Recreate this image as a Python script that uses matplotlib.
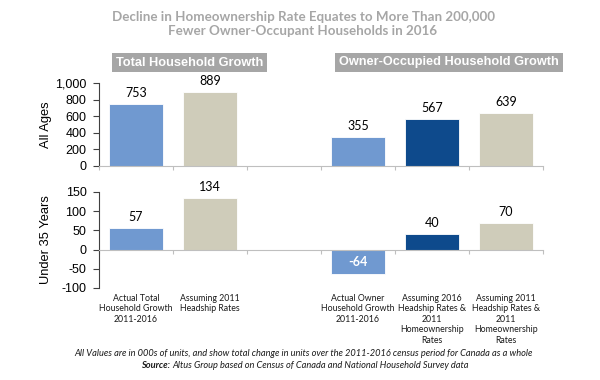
import numpy as np
import matplotlib.pyplot as plt
import matplotlib.transforms as mtransforms
from matplotlib.patches import Rectangle

# Chart data
categories = ["Actual Total\nHousehold Growth\n2011-2016", "Assuming 2011\nHeadship Rates", "",
              "Actual Owner\nHousehold Growth\n2011-2016",
              "Assuming 2016\nHeadship Rates &\n2011\nHomeownership\nRates",
              "Assuming 2011\nHeadship Rates &\n2011\nHomeownership\nRates"]
all_ages = [753, 889, None, 355, 567, 639]
under_35 = [57, 134, None, -64, 40, 70]
bar_colors = ["#7099d0", "#cfccba", "white", "#7099d0", "#0e4a8c", "#cfccba"]
headers = ["Total Household Growth", "Owner-Occupied Household Growth"]

W, H = 600, 380
fig = plt.figure(figsize=(6, 3.8), dpi=100)
ax1 = fig.add_axes([99 / W, 1 - 166 / H, 444 / W, 83 / H])
ax2 = fig.add_axes([99 / W, 1 - 288 / H, 444 / W, 96 / H])

x = np.arange(len(categories)) + 0.5
axis_col = "#bfbfbf"
tick_font = "Liberation Sans"
lab_font = "Lato"

for ax, vals in [(ax1, all_ages), (ax2, under_35)]:
    for xi, v, c in zip(x, vals, bar_colors):
        if v is None:
            continue
        ax.bar(xi, v, width=0.73, color=c, edgecolor="white", linewidth=0.6)
    ax.set_xlim(0, 6)
    ax.set_xticks(np.arange(0, 7))
    ax.set_xticklabels([])
    for s in ["top", "right"]:
        ax.spines[s].set_visible(False)
    ax.spines["left"].set_color("#404040")
    ax.spines["bottom"].set_color(axis_col)
    ax.tick_params(axis="x", length=3, color=axis_col, direction="out")
    ax.tick_params(axis="y", length=4, labelsize=9, color="#404040", pad=5)
    ax.yaxis.set_label_coords(-0.105, 0.5)

# top panel
ax1.set_ylim(0, 1000)
ax1.set_yticks([0, 200, 400, 600, 800, 1000])
ax1.set_yticklabels(["0", "200", "400", "600", "800", "1,000"], family=tick_font)
ax1.set_ylabel("All Ages", fontsize=9.3, family=tick_font)
for xi, v in zip(x, all_ages):
    if v is not None:
        ax1.annotate(str(v), (xi, v), xytext=(0, 3.5), textcoords="offset points",
                     ha="center", va="bottom", fontsize=9, family=lab_font)

# bottom panel
ax2.set_ylim(-100, 150)
ax2.set_yticks([-100, -50, 0, 50, 100, 150])
ax2.set_yticklabels(["-100", "-50", "0", "50", "100", "150"], family=tick_font)
ax2.spines["bottom"].set_position(("data", 0))
ax2.set_ylabel("Under 35 Years", fontsize=9.3, family=tick_font)
for xi, v in zip(x, under_35):
    if v is None:
        continue
    if v < 0:
        ax2.text(xi, v / 2, str(v), ha="center", va="center", fontsize=9,
                 color="white", fontweight="bold", family=lab_font)
    else:
        ax2.annotate(str(v), (xi, v), xytext=(0, 3.5), textcoords="offset points",
                     ha="center", va="bottom", fontsize=9, family=lab_font)

# category labels below the lower panel
trans = mtransforms.blended_transform_factory(ax2.transData, fig.transFigure)
for xi, lab in zip(x, categories):
    ax2.text(xi, 1 - 294 / H, lab, transform=trans, ha="center", va="top",
             fontsize=6.3, linespacing=1.2, family=lab_font, color="#1a1a1a")

# title
fig.text(0.505, 1 - 24 / H, "Decline in Homeownership Rate Equates to More Than 200,000\nFewer Owner-Occupant Households in 2016",
         ha="center", va="center", fontsize=9.6, fontweight="bold", color="#a6a6a6",
         family=lab_font, linespacing=1.25)

# panel headers on grey boxes
for (x0, x1), txt in zip([(112, 267), (335, 563)], headers):
    fig.patches.append(Rectangle((x0 / W, 1 - 72 / H), (x1 - x0) / W, 19 / H,
                                 transform=fig.transFigure, facecolor="#a6a6a6",
                                 edgecolor="none"))
    fig.text((x0 + x1) / 2 / W, 1 - 62.5 / H, txt, ha="center", va="center",
             fontsize=9.2, fontweight="bold", color="white", family=tick_font)

# footnote
fig.text(0.506, 1 - 354 / H, "All Values are in 000s of units, and show total change in units over the 2011-2016 census period for Canada as a whole",
         ha="center", va="center", fontsize=6.65, style="italic", family=lab_font, color="#1a1a1a")
fig.text(0.287, 1 - 365 / H, "Source: ", ha="right", va="center", fontsize=6.65,
         style="italic", fontweight="bold", family=lab_font, color="#1a1a1a")
fig.text(0.287, 1 - 365 / H, "Altus Group based on Census of Canada and National Household Survey data",
         ha="left", va="center", fontsize=6.65, style="italic", family=lab_font, color="#1a1a1a")

plt.savefig("out.png", dpi=100)
